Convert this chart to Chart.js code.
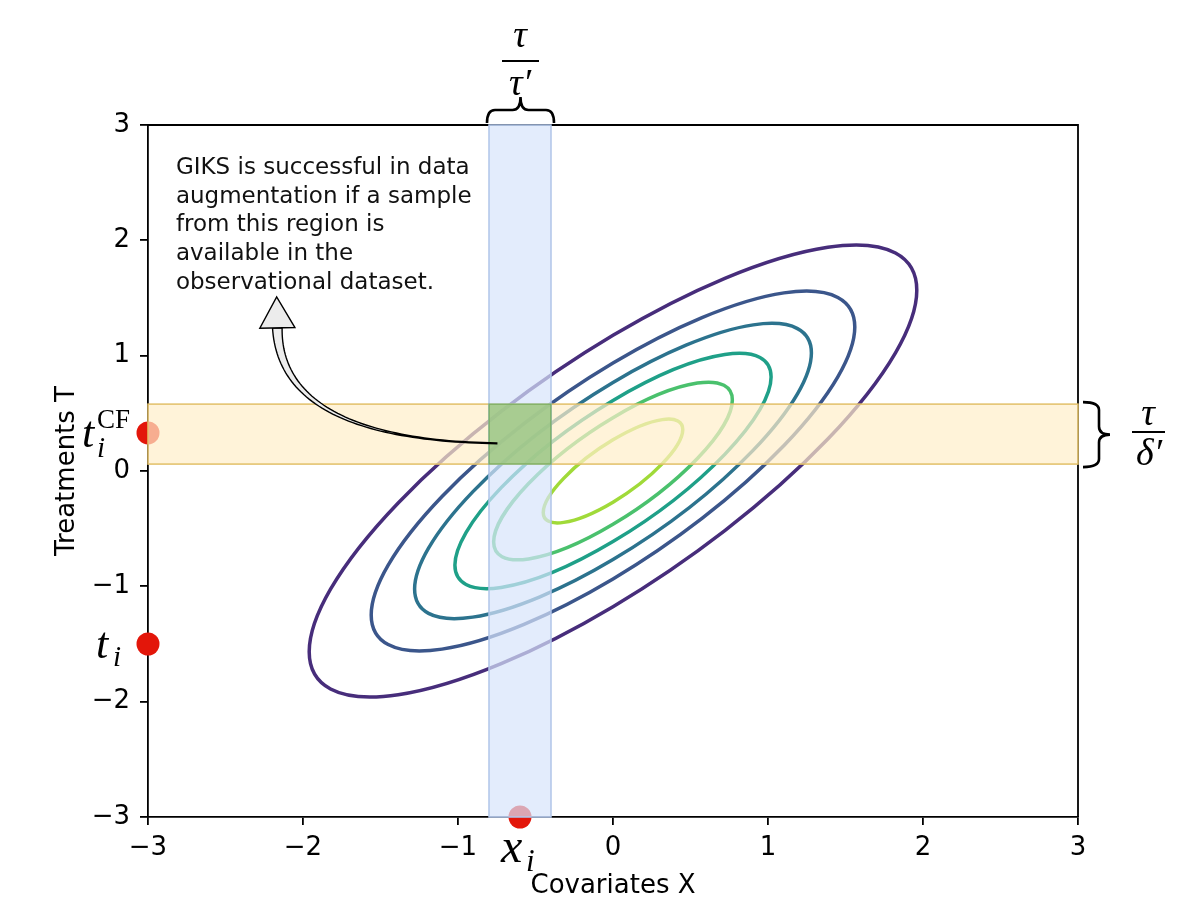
<!DOCTYPE html>
<html>
<head>
  <title>GIKS augmentation region</title>
  <script src="https://cdn.jsdelivr.net/npm/chart.js"></script>
  <style>
    html, body { margin: 0; padding: 0; background: #fff; }
    canvas { display: block; }
  </style>
</head>
<body>
  <canvas id="giksChart" width="1200" height="918"></canvas>
  <script>
    // axis range
    const AXIS_MIN = -3;
    const AXIS_MAX = 3;
    const TICK_STEP = 1;

    // gaussian contour levels (x extent of each ellipse), correlation and centre
    const contourRadii = [1.96, 1.56, 1.28, 1.02, 0.77, 0.45];
    const contourRho = 0.8;
    const contourCentre = [0, 0];

    // samples: t_i^CF, t_i, x_i
    const pointX = [-3, -3, -0.6];
    const pointY = [0.33, -1.5, -3];

    // neighbourhood bands
    const bandX = [-0.8, -0.4];
    const bandT = [0.06, 0.58];

    const noteLines = [
      'GIKS is successful in data',
      'augmentation if a sample',
      'from this region is',
      'available in the',
      'observational dataset.'
    ];

    const contourColors = ['#472d7b', '#3b568b', '#2c738e', '#1fa088', '#4ac16d', '#a0da39'];
    const RED = '#e3160a';
    const MATH = '"Liberation Serif", "DejaVu Serif", serif';

    function minus(v) {
      return v < 0 ? '\u2212' + Math.abs(v) : String(v);
    }

    function mathText(ctx, str, x, y, size, italic, align) {
      ctx.font = (italic ? 'italic ' : '') + size + 'px ' + MATH;
      ctx.textAlign = align || 'left';
      ctx.textBaseline = 'alphabetic';
      ctx.fillText(str, x, y);
    }

    function band(ctx, x, y, w, h, fill, edge) {
      ctx.fillStyle = fill;
      ctx.fillRect(x, y, w, h);
      ctx.strokeStyle = edge;
      ctx.lineWidth = 1.5;
      ctx.strokeRect(x, y, w, h);
    }

    function fancyArrow(ctx, p0, c, tip) {
      const headLen = 31, headHalf = 17.5, shaftHalf = 4.8;
      const dx = tip[0] - c[0], dy = tip[1] - c[1];
      const d = Math.hypot(dx, dy);
      const ux = dx / d, uy = dy / d;
      const p2 = [tip[0] - ux * headLen, tip[1] - uy * headLen];
      const left = [], right = [];
      const n = 60;
      for (let i = 0; i <= n; i++) {
        const t = i / n;
        const bx = (1 - t) * (1 - t) * p0[0] + 2 * (1 - t) * t * c[0] + t * t * p2[0];
        const by = (1 - t) * (1 - t) * p0[1] + 2 * (1 - t) * t * c[1] + t * t * p2[1];
        const tx = 2 * (1 - t) * (c[0] - p0[0]) + 2 * t * (p2[0] - c[0]);
        const ty = 2 * (1 - t) * (c[1] - p0[1]) + 2 * t * (p2[1] - c[1]);
        const tl = Math.hypot(tx, ty);
        const nx = -ty / tl, ny = tx / tl;
        const w = 0.4 + (shaftHalf - 0.4) * t * t;
        left.push([bx + nx * w, by + ny * w]);
        right.push([bx - nx * w, by - ny * w]);
      }
      ctx.beginPath();
      left.forEach((p, i) => i ? ctx.lineTo(p[0], p[1]) : ctx.moveTo(p[0], p[1]));
      for (let i = right.length - 1; i >= 0; i--) ctx.lineTo(right[i][0], right[i][1]);
      ctx.closePath();
      ctx.fillStyle = '#ececec';
      ctx.fill();
      ctx.strokeStyle = '#000';
      ctx.lineWidth = 1.4;
      ctx.stroke();
      // head
      const hx = -uy, hy = ux;
      ctx.beginPath();
      ctx.moveTo(p2[0] + hx * headHalf, p2[1] + hy * headHalf);
      ctx.lineTo(tip[0], tip[1]);
      ctx.lineTo(p2[0] - hx * headHalf, p2[1] - hy * headHalf);
      ctx.closePath();
      ctx.fill();
      ctx.stroke();
    }

    function topBrace(ctx, xl, xr, yb) {
      const xm = (xl + xr) / 2, h = yb - 13, tip = yb - 26;
      ctx.beginPath();
      ctx.moveTo(xl, yb);
      ctx.quadraticCurveTo(xl, h, xl + 8, h);
      ctx.lineTo(xm - 8, h);
      ctx.quadraticCurveTo(xm, h, xm, tip);
      ctx.quadraticCurveTo(xm, h, xm + 8, h);
      ctx.lineTo(xr - 8, h);
      ctx.quadraticCurveTo(xr, h, xr, yb);
      ctx.stroke();
    }

    function rightBrace(ctx, yt, yb, xl) {
      const ym = (yt + yb) / 2, v = xl + 16, tip = xl + 27;
      ctx.beginPath();
      ctx.moveTo(xl, yt);
      ctx.quadraticCurveTo(v, yt, v, yt + 8);
      ctx.lineTo(v, ym - 8);
      ctx.quadraticCurveTo(v, ym, tip, ym);
      ctx.quadraticCurveTo(v, ym, v, ym + 8);
      ctx.lineTo(v, yb - 8);
      ctx.quadraticCurveTo(v, yb, xl, yb);
      ctx.stroke();
    }

    // where the annotation sits, in data units
    const note = { x: -2.82, y: 2.575, lineGap: 28.7 };
    const arrowPath = { tail: [-0.75, 0.24], bend: [-2.15, 0.27], tip: [-2.17, 1.51] };

    const giksPlugin = {
      id: 'giks',
      beforeDatasetsDraw(chart) {
        const { ctx, chartArea: a } = chart;
        const x = chart.scales.x, y = chart.scales.y;
        const sx = x.getPixelForValue(1) - x.getPixelForValue(0);
        const sy = y.getPixelForValue(0) - y.getPixelForValue(1);
        const cx = x.getPixelForValue(contourCentre[0]);
        const cy = y.getPixelForValue(contourCentre[1]);
        ctx.save();
        ctx.lineWidth = 3.5;
        contourRadii.forEach((r, i) => {
          ctx.save();
          ctx.translate(cx, cy);
          ctx.scale(sx, -sy);
          ctx.transform(1, contourRho, 0, Math.sqrt(1 - contourRho * contourRho), 0, 0);
          ctx.beginPath();
          ctx.arc(0, 0, r, 0, Math.PI * 2);
          ctx.restore();
          ctx.strokeStyle = contourColors[i];
          ctx.stroke();
        });
        // top and right spines
        ctx.strokeStyle = '#000';
        ctx.lineWidth = 1.8;
        ctx.beginPath();
        ctx.moveTo(a.left, a.top);
        ctx.lineTo(a.right, a.top);
        ctx.lineTo(a.right, a.bottom);
        ctx.stroke();
        ctx.restore();
      },
      afterDatasetsDraw(chart) {
        const { ctx } = chart;
        const x = chart.scales.x, y = chart.scales.y;
        const px = v => x.getPixelForValue(v);
        const py = v => y.getPixelForValue(v);
        const L = px(AXIS_MIN), R = px(AXIS_MAX), T = py(AXIS_MAX), B = py(AXIS_MIN);
        const x0 = px(bandX[0]), x1 = px(bandX[1]);
        const yt = py(bandT[1]), yb = py(bandT[0]);
        ctx.save();
        band(ctx, L, yt, R - L, yb - yt, 'rgba(255,238,201,0.7)', 'rgb(226,192,105)');
        band(ctx, x0, T, x1 - x0, B - T, 'rgba(215,228,251,0.7)', 'rgb(176,197,233)');
        band(ctx, x0, yt, x1 - x0, yb - yt, 'rgba(129,185,81,0.6)', 'rgba(110,165,80,0.7)');

        // curved arrow towards the note
        fancyArrow(ctx,
          [px(arrowPath.tail[0]), py(arrowPath.tail[1])],
          [px(arrowPath.bend[0]), py(arrowPath.bend[1])],
          [px(arrowPath.tip[0]), py(arrowPath.tip[1])]);

        // note text
        ctx.fillStyle = '#111';
        ctx.font = '23px "DejaVu Sans"';
        ctx.textAlign = 'left';
        ctx.textBaseline = 'alphabetic';
        noteLines.forEach((s, i) => ctx.fillText(s, px(note.x), py(note.y) + i * note.lineGap));

        // braces and fractions
        ctx.strokeStyle = '#000';
        ctx.fillStyle = '#000';
        ctx.lineWidth = 2.6;
        topBrace(ctx, x0 - 2, x1 + 3, T - 2);
        rightBrace(ctx, yt - 2, yb + 3, R + 5);

        const fx = (x0 + x1) / 2;
        mathText(ctx, '\u03c4', fx, T - 78, 38, true, 'center');
        ctx.lineWidth = 2;
        ctx.beginPath(); ctx.moveTo(fx - 18, T - 64); ctx.lineTo(fx + 19, T - 64); ctx.stroke();
        mathText(ctx, '\u03c4\u2032', fx, T - 30, 38, true, 'center');

        const fy = (yt + yb) / 2;
        const rx = R + 70;
        mathText(ctx, '\u03c4', rx, fy - 9, 38, true, 'center');
        ctx.beginPath(); ctx.moveTo(rx - 16, fy - 2); ctx.lineTo(rx + 17, fy - 2); ctx.stroke();
        mathText(ctx, '\u03b4\u2032', rx + 1, fy + 31, 38, true, 'center');

        // point labels
        const pCF = [px(pointX[0]), py(pointY[0])];
        mathText(ctx, 't', pCF[0] - 66, pCF[1] + 14, 44, true);
        mathText(ctx, 'i', pCF[0] - 51, pCF[1] + 24, 29, true);
        mathText(ctx, 'CF', pCF[0] - 51, pCF[1] - 5, 27, false);

        const pT = [px(pointX[1]), py(pointY[1])];
        mathText(ctx, 't', pT[0] - 52, pT[1] + 14, 44, true);
        mathText(ctx, 'i', pT[0] - 35, pT[1] + 22, 29, true);

        const pX = [px(pointX[2]), py(pointY[2])];
        mathText(ctx, 'x', pX[0] - 19, pX[1] + 45, 48, true);
        mathText(ctx, 'i', pX[0] + 6, pX[1] + 54, 31, true);
        ctx.restore();
      }
    };

    const axisFont = { family: 'DejaVu Sans', size: 26 };

    new Chart(document.getElementById('giksChart'), {
      type: 'scatter',
      data: {
        datasets: [{
          data: pointX.map((v, i) => ({ x: v, y: pointY[i] })),
          backgroundColor: RED,
          borderWidth: 0,
          pointRadius: 11.5,
          pointHoverRadius: 11.5,
          clip: false
        }]
      },
      options: {
        responsive: false,
        devicePixelRatio: 1,
        animation: false,
        events: [],
        layout: { padding: { left: 0, right: 122, top: 125, bottom: 0 } },
        plugins: { legend: { display: false }, tooltip: { enabled: false } },
        scales: {
          x: {
            type: 'linear',
            min: AXIS_MIN,
            max: AXIS_MAX,
            afterFit: s => { s.height = 101; },
            ticks: { stepSize: TICK_STEP, font: axisFont, color: '#000', padding: 8, callback: minus },
            grid: { drawOnChartArea: false, drawTicks: true, tickLength: 8, color: '#000', lineWidth: 1.8 },
            border: { display: true, color: '#000', width: 1.8 },
            title: { display: true, text: 'Covariates X', font: axisFont, color: '#000', padding: { top: 0, bottom: 16 } }
          },
          y: {
            type: 'linear',
            min: AXIS_MIN,
            max: AXIS_MAX,
            afterFit: s => { s.width = 148; },
            ticks: { stepSize: TICK_STEP, font: axisFont, color: '#000', padding: 10, callback: minus },
            grid: { drawOnChartArea: false, drawTicks: true, tickLength: 8, color: '#000', lineWidth: 1.8 },
            border: { display: true, color: '#000', width: 1.8 },
            title: { display: true, text: 'Treatments T', font: axisFont, color: '#000', padding: { top: 52, bottom: 0 } }
          }
        }
      },
      plugins: [giksPlugin]
    });
  </script>
</body>
</html>
